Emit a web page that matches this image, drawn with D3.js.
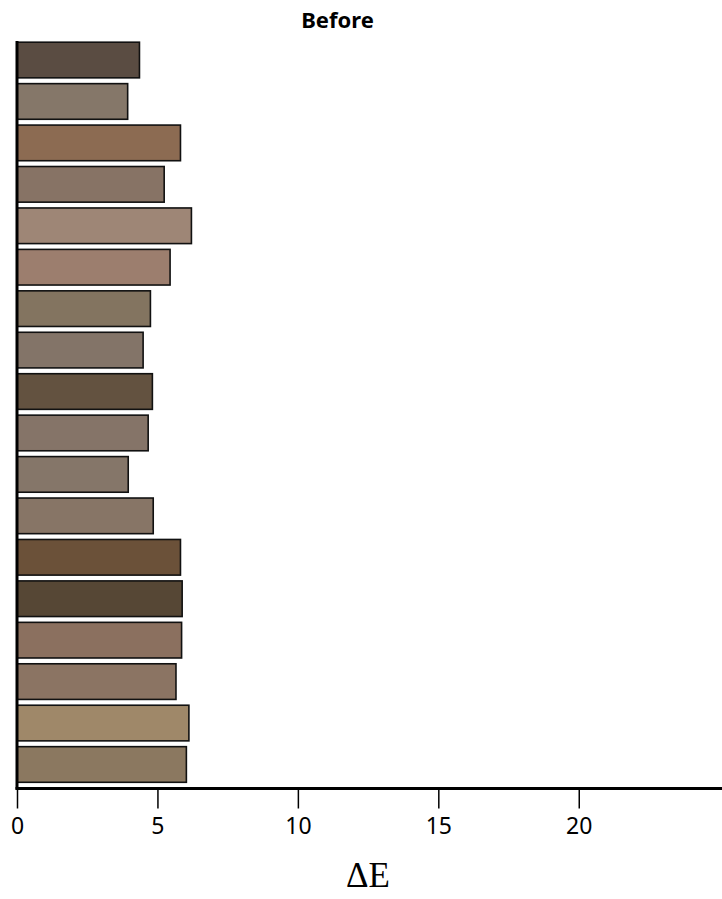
<!DOCTYPE html>
<html>
<head>
<meta charset="utf-8">
<script src="https://cdn.jsdelivr.net/npm/d3@7"></script>
<style>
  html, body { margin: 0; padding: 0; background: #fff; }
  svg { display: block; }
</style>
</head>
<body>
<div id="chart"></div>
<script>
const categories = ["s1","s2","s3","s4","s5","s6","s7","s8","s9","s10","s11","s12","s13","s14","s15","s16","s17","s18"];
const deltaE = [4.36, 3.94, 5.82, 5.24, 6.21, 5.45, 4.75, 4.49, 4.82, 4.67, 3.96, 4.85, 5.82, 5.88, 5.86, 5.66, 6.12, 6.03];
const barColors = ["#5a4c42","#857769","#8c6b52","#877365","#9e8676","#9c7e6e","#837460","#837468","#635240","#857468","#857669","#877566","#6b5139","#564735","#8b705f","#8b7463","#9f8869","#8b7860"];
const xTickValues = [0, 5, 10, 15, 20];
const titleText = "Before";
const xLabel = "ΔE";

const W = 722, H = 899;
const svg = d3.select("#chart").append("svg").attr("width", W).attr("height", H);

const x = d3.scaleLinear().domain([0, 25.1]).range([17, 722]);
const y = d3.scaleBand().domain(categories).range([39.3, 785.2]).paddingInner(0.14).paddingOuter(0.07);
const axisY = 788.5;

svg.selectAll("rect.bar").data(categories).join("rect")
  .attr("class", "bar")
  .attr("x", x(0))
  .attr("y", d => y(d))
  .attr("width", (d, i) => x(deltaE[i]) - x(0))
  .attr("height", y.bandwidth())
  .attr("fill", (d, i) => barColors[i])
  .attr("stroke", "#111")
  .attr("stroke-width", 1.6);

// y axis line
svg.append("line")
  .attr("x1", x(0)).attr("x2", x(0))
  .attr("y1", 41).attr("y2", axisY + 1)
  .attr("stroke", "#000").attr("stroke-width", 3);

// x axis
const xAxis = d3.axisBottom(x).tickValues(xTickValues).tickSize(20).tickPadding(9).tickFormat(d3.format("d"));
const gx = svg.append("g").attr("transform", `translate(0,${axisY})`).call(xAxis);
gx.select(".domain").remove();
gx.selectAll(".tick line").attr("stroke", "#000").attr("stroke-width", 1.5);
gx.selectAll(".tick text").attr("fill", "#000")
  .style("font-family", "'Noto Sans', 'Open Sans', sans-serif").style("font-size", "23px");
svg.append("line")
  .attr("x1", x(0) - 1.5).attr("x2", W)
  .attr("y1", axisY).attr("y2", axisY)
  .attr("stroke", "#000").attr("stroke-width", 3);

// title
svg.append("text")
  .attr("x", 337.5).attr("y", 28)
  .attr("text-anchor", "middle")
  .style("font-family", "'Noto Sans', 'Open Sans', sans-serif")
  .style("font-weight", "bold").style("font-size", "22px")
  .text(titleText);

// x label
svg.append("text")
  .attr("x", 368).attr("y", 887)
  .attr("text-anchor", "middle")
  .style("font-family", "'Liberation Serif', 'DejaVu Serif', serif")
  .style("font-size", "35px")
  .text(xLabel);
</script>
</body>
</html>
